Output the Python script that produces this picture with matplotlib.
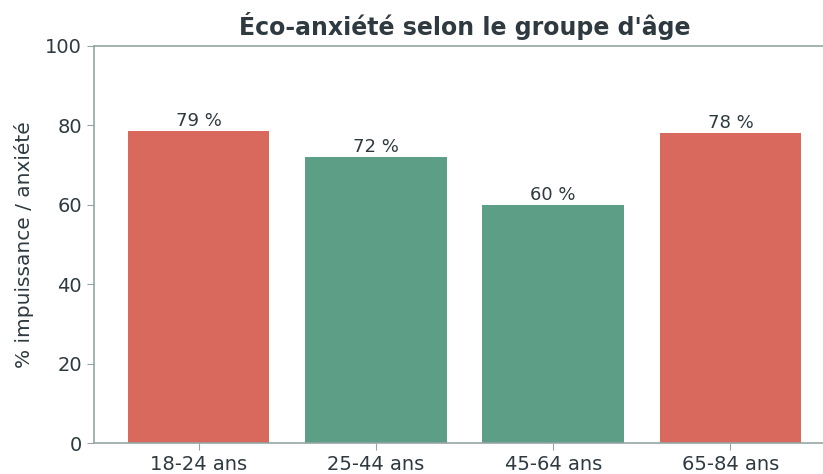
import matplotlib
matplotlib.use("Agg")
import matplotlib.pyplot as plt

# === données ===
groupes = ["18-24 ans", "25-44 ans", "45-64 ans", "65-84 ans"]
valeurs = [78.5, 72, 60, 78]
etiquettes = ["79 %", "72 %", "60 %", "78 %"]
couleurs = ["#d9695d", "#5d9e86", "#5d9e86", "#d9695d"]

texte = "#2e3a40"
gris = "#95a5a6"

fig = plt.figure(figsize=(8.23, 4.74), dpi=100)
ax = fig.add_axes([0.1142, 0.0654, 0.9004, 0.8376])

barres = ax.bar(groupes, valeurs, color=couleurs, width=0.8)
for b, lab in zip(barres, etiquettes):
    ax.text(b.get_x() + b.get_width() / 2, b.get_height() + 0.3, lab,
            ha="center", va="bottom", fontsize=13, color=texte)

ax.set_ylim(0, 100)
ax.set_yticks([0, 20, 40, 60, 80, 100])
ax.set_ylabel("% impuissance / anxiété", fontsize=14.5, color=texte, labelpad=8)
ax.set_title("Éco-anxiété selon le groupe d'âge", fontsize=17, fontweight="bold",
             color=texte, pad=8)

ax.spines["right"].set_visible(False)
for s in ["left", "bottom", "top"]:
    ax.spines[s].set_color(gris)
    ax.spines[s].set_linewidth(1.2)
ax.tick_params(colors=gris, labelcolor=texte, labelsize=14, length=5)

fig.savefig("out.png", dpi=100)
